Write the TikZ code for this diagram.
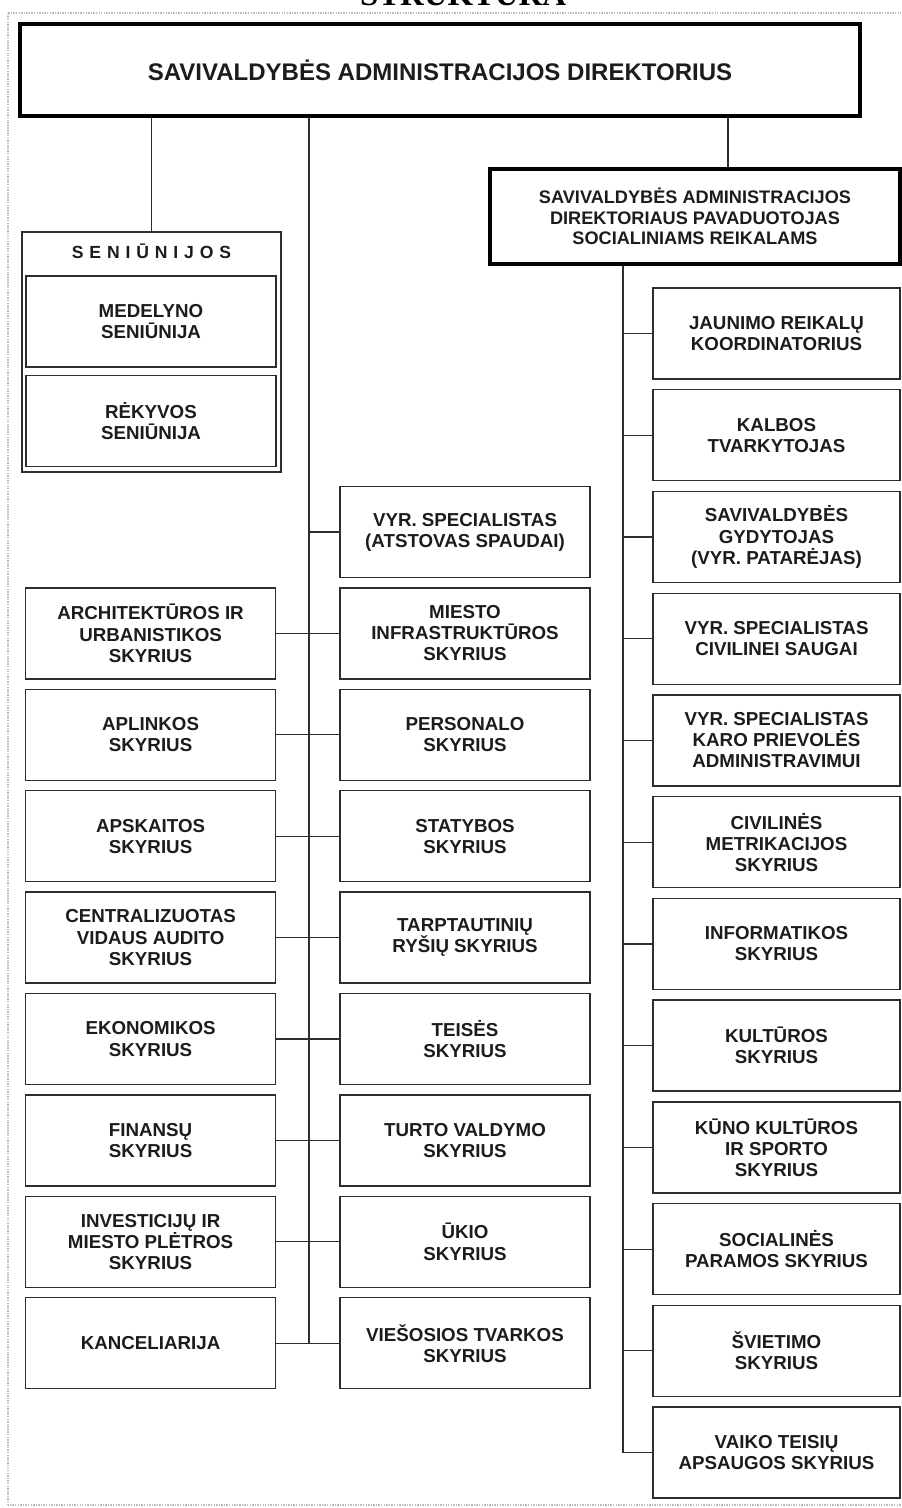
\documentclass[tikz,border=0pt]{standalone}
\usepackage{fontspec}
\setmainfont{Liberation Sans}
\newfontfamily\headfont{Liberation Serif}
\definecolor{ocLine}{HTML}{2E2E2E}
\definecolor{ocText}{HTML}{1C1C1C}
\definecolor{ocFrame}{HTML}{BDBDBD}
\usepackage{tikz}
\usetikzlibrary{positioning}

\tikzset{
  unit/.style={draw=ocLine, line width=1.2pt, fill=white, minimum width=7.5cm,
    minimum height=2.73cm, align=center, inner sep=2pt, text=ocText,
    font=\fontsize{16}{18}\selectfont\bfseries},
  rightunit/.style={unit, minimum width=7.41cm},
  chief/.style={draw=black, line width=3.4pt, fill=white, align=center, text=ocText},
  link/.style={draw=ocLine, line width=1pt},
}

\begin{document}
\begin{tikzpicture}
  \useasboundingbox (0,0) rectangle (27.06,45.24);
  \clip (0,0) rectangle (27.06,45.24);

  % page frame and cut-off heading
  \draw[ocFrame, densely dotted, line width=1.2pt] (0.24,0.09) rectangle (27.4,44.85);
  \node[anchor=base, font=\headfont\fontsize{28}{30}\selectfont\bfseries] (heading) at (13.89,45.06) {STRUKTŪRA};

  % -- Director and deputy --
  \node[chief, minimum width=25.2cm, minimum height=2.76cm,
    font=\fontsize{20.5}{24}\selectfont\bfseries] (dir) at (13.2,43.14)
    {SAVIVALDYBĖS ADMINISTRACIJOS DIREKTORIUS};
  \node[chief, line width=3pt, minimum width=12.3cm, minimum height=2.85cm,
    font=\fontsize{15.5}{17.6}\selectfont\bfseries] (dep) at (20.85,38.745)
    {SAVIVALDYBĖS ADMINISTRACIJOS\\DIREKTORIAUS PAVADUOTOJAS\\SOCIALINIAMS REIKALAMS};

  % -- Seniunijos --
  \node[draw=ocLine, line width=1.2pt, minimum width=7.77cm, minimum height=7.2cm] (sen) at (4.545,34.68) {};
  \node[text=ocText, font=\fontsize{15}{17}\selectfont\bfseries] (senTitle) at (4.545,37.71)
    {\spaceskip=5pt S E N I Ū N I J O S};
  \node[unit] (medelyno) at (4.53,35.595) {MEDELYNO\\SENIŪNIJA};
  \node[unit, below=0.21cm of medelyno] (rekyvos) {RĖKYVOS\\SENIŪNIJA};

  % -- Middle column --
  \node[unit] (spauda) at (13.95,29.28) {VYR. SPECIALISTAS\\(ATSTOVAS SPAUDAI)};
  \node[unit, below=0.27cm of spauda] (miesto) {MIESTO\\INFRASTRUKTŪROS\\SKYRIUS};
  \node[unit, below=0.27cm of miesto] (personalo) {PERSONALO\\SKYRIUS};
  \node[unit, below=0.27cm of personalo] (statybos) {STATYBOS\\SKYRIUS};
  \node[unit, below=0.27cm of statybos] (rysiu) {TARPTAUTINIŲ\\RYŠIŲ SKYRIUS};
  \node[unit, below=0.27cm of rysiu] (teises) {TEISĖS\\SKYRIUS};
  \node[unit, below=0.27cm of teises] (turto) {TURTO VALDYMO\\SKYRIUS};
  \node[unit, below=0.27cm of turto] (ukio) {ŪKIO\\SKYRIUS};
  \node[unit, below=0.27cm of ukio] (tvarkos) {VIEŠOSIOS TVARKOS\\SKYRIUS};

  % -- Left column --
  \node[unit, left=1.89cm of miesto] (archit) {ARCHITEKTŪROS IR\\URBANISTIKOS\\SKYRIUS};
  \node[unit, below=0.27cm of archit] (aplinkos) {APLINKOS\\SKYRIUS};
  \node[unit, below=0.27cm of aplinkos] (apskaitos) {APSKAITOS\\SKYRIUS};
  \node[unit, below=0.27cm of apskaitos] (auditas) {CENTRALIZUOTAS\\VIDAUS AUDITO\\SKYRIUS};
  \node[unit, below=0.27cm of auditas] (ekonomikos) {EKONOMIKOS\\SKYRIUS};
  \node[unit, below=0.27cm of ekonomikos] (finansu) {FINANSŲ\\SKYRIUS};
  \node[unit, below=0.27cm of finansu] (investiciju) {INVESTICIJŲ IR\\MIESTO PLĖTROS\\SKYRIUS};
  \node[unit, below=0.27cm of investiciju] (kanc) {KANCELIARIJA};

  % -- Right column --
  \node[rightunit] (jaunimo) at (23.295,35.235) {JAUNIMO REIKALŲ\\KOORDINATORIUS};
  \node[rightunit, below=0.28cm of jaunimo] (kalbos) {KALBOS\\TVARKYTOJAS};
  \node[rightunit, below=0.28cm of kalbos] (gydytojas) {SAVIVALDYBĖS\\GYDYTOJAS\\(VYR. PATARĖJAS)};
  \node[rightunit, below=0.28cm of gydytojas] (sauga) {VYR. SPECIALISTAS\\CIVILINEI SAUGAI};
  \node[rightunit, below=0.28cm of sauga] (karo) {VYR. SPECIALISTAS\\KARO PRIEVOLĖS\\ADMINISTRAVIMUI};
  \node[rightunit, below=0.28cm of karo] (metrikacijos) {CIVILINĖS\\METRIKACIJOS\\SKYRIUS};
  \node[rightunit, below=0.28cm of metrikacijos] (informatikos) {INFORMATIKOS\\SKYRIUS};
  \node[rightunit, below=0.28cm of informatikos] (kulturos) {KULTŪROS\\SKYRIUS};
  \node[rightunit, below=0.28cm of kulturos] (sporto) {KŪNO KULTŪROS\\IR SPORTO\\SKYRIUS};
  \node[rightunit, below=0.28cm of sporto] (paramos) {SOCIALINĖS\\PARAMOS SKYRIUS};
  \node[rightunit, below=0.28cm of paramos] (svietimo) {ŠVIETIMO\\SKYRIUS};
  \node[rightunit, below=0.28cm of svietimo] (vaiko) {VAIKO TEISIŲ\\APSAUGOS SKYRIUS};

  % trunk lines
  \coordinate (midTrunk) at (9.27,0);
  \coordinate (depLink) at (21.84,0);
  \coordinate (rightTrunk) at (18.69,0);
  \draw[link] (dir.south -| sen.north) -- (sen.north);
  \draw[link] (dir.south -| depLink) -- (dep.north -| depLink);
  \draw[link] (dir.south -| midTrunk) -- (midTrunk |- kanc.east);
  \draw[link] (dep.south -| rightTrunk) -- (rightTrunk |- vaiko.west);

  % middle branches
  \draw[link] (midTrunk |- spauda.west) -- (spauda.west);
  \draw[link] (archit.east) -- (miesto.west);
  \draw[link] (aplinkos.east) -- (personalo.west);
  \draw[link] (apskaitos.east) -- (statybos.west);
  \draw[link] (auditas.east) -- (rysiu.west);
  \draw[link] (ekonomikos.east) -- (teises.west);
  \draw[link] (finansu.east) -- (turto.west);
  \draw[link] (investiciju.east) -- (ukio.west);
  \draw[link] (kanc.east) -- (tvarkos.west);

  % right branches
  \draw[link] (rightTrunk |- jaunimo.west) -- (jaunimo.west);
  \draw[link] (rightTrunk |- kalbos.west) -- (kalbos.west);
  \draw[link] (rightTrunk |- gydytojas.west) -- (gydytojas.west);
  \draw[link] (rightTrunk |- sauga.west) -- (sauga.west);
  \draw[link] (rightTrunk |- karo.west) -- (karo.west);
  \draw[link] (rightTrunk |- metrikacijos.west) -- (metrikacijos.west);
  \draw[link] (rightTrunk |- informatikos.west) -- (informatikos.west);
  \draw[link] (rightTrunk |- kulturos.west) -- (kulturos.west);
  \draw[link] (rightTrunk |- sporto.west) -- (sporto.west);
  \draw[link] (rightTrunk |- paramos.west) -- (paramos.west);
  \draw[link] (rightTrunk |- svietimo.west) -- (svietimo.west);
  \draw[link] (rightTrunk |- vaiko.west) -- (vaiko.west);
\end{tikzpicture}
\end{document}
